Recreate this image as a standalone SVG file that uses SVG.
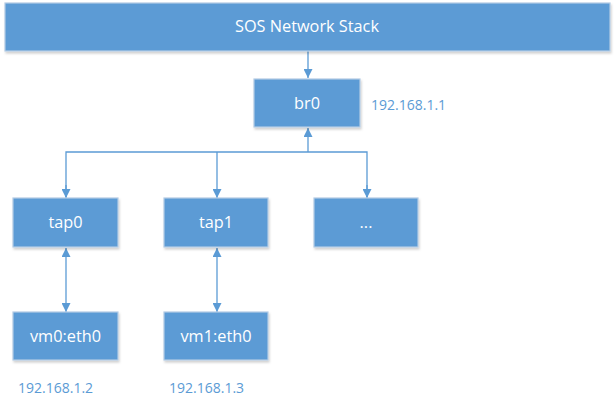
<svg xmlns="http://www.w3.org/2000/svg" width="615" height="407" viewBox="0 0 615 407">
<defs>
<style>
.box{fill:#5B9BD5;stroke:#B4CBE4;stroke-width:1.2}
.lbl{font-family:"Open Sans","DejaVu Sans",sans-serif;font-size:16.3px;fill:#FFFFFF;text-anchor:middle;dominant-baseline:central}
.ip{font-family:"Open Sans","DejaVu Sans",sans-serif;font-size:14px;fill:#5B9BD5;dominant-baseline:central}
.ln{stroke:#5B9BD5;stroke-width:1.3;fill:none}
</style>
<marker id="ah" viewBox="0 0 10 10" refX="10" refY="5" markerWidth="9" markerHeight="9" markerUnits="userSpaceOnUse" orient="auto-start-reverse">
<path d="M0,0 L10,5 L0,10 z" fill="#5B9BD5"/>
</marker>
<filter id="sh" x="-10%" y="-10%" width="130%" height="140%">
<feDropShadow dx="1" dy="2" stdDeviation="1.2" flood-color="#000" flood-opacity="0.18"/>
</filter>
</defs>
<g id="connectors">
<line class="ln" x1="308" y1="51" x2="308" y2="78" marker-end="url(#ah)"/>
<line class="ln" x1="308" y1="152" x2="308" y2="128" marker-end="url(#ah)"/>
<polyline class="ln" points="66,197 66,152 367,152 367,197"/>
<line class="ln" x1="66" y1="185" x2="66" y2="198" marker-end="url(#ah)"/>
<line class="ln" x1="217" y1="152" x2="217" y2="198" marker-end="url(#ah)"/>
<line class="ln" x1="367" y1="185" x2="367" y2="198" marker-end="url(#ah)"/>
<line class="ln" x1="66" y1="248" x2="66" y2="312" marker-start="url(#ah)" marker-end="url(#ah)"/>
<line class="ln" x1="217" y1="248" x2="217" y2="312" marker-start="url(#ah)" marker-end="url(#ah)"/>
</g>
<g id="sos">
<rect class="box" x="5" y="3" width="605" height="48" filter="url(#sh)"/>
<text class="lbl" x="307" y="26">SOS Network Stack</text>
</g>
<g id="br0">
<rect class="box" x="254" y="79" width="106" height="48" filter="url(#sh)"/>
<text class="lbl" x="307" y="103">br0</text>
</g>
<g id="br0-ip"><text class="ip" x="371" y="104">192.168.1.1</text></g>
<g id="tap0">
<rect class="box" x="13" y="198" width="105" height="49" filter="url(#sh)"/>
<text class="lbl" x="65.5" y="222">tap0</text>
</g>
<g id="tap1">
<rect class="box" x="164" y="198" width="104" height="49" filter="url(#sh)"/>
<text class="lbl" x="216" y="222">tap1</text>
</g>
<g id="more">
<rect class="box" x="314" y="198" width="104" height="49" filter="url(#sh)"/>
<text class="lbl" x="366" y="222">...</text>
</g>
<g id="vm0">
<rect class="box" x="13" y="312" width="105" height="48" filter="url(#sh)"/>
<text class="lbl" x="65.5" y="336">vm0:eth0</text>
</g>
<g id="vm1">
<rect class="box" x="164" y="312" width="104" height="48" filter="url(#sh)"/>
<text class="lbl" x="216" y="336">vm1:eth0</text>
</g>
<g id="vm0-ip"><text class="ip" x="18" y="387">192.168.1.2</text></g>
<g id="vm1-ip"><text class="ip" x="169" y="387">192.168.1.3</text></g>
</svg>
